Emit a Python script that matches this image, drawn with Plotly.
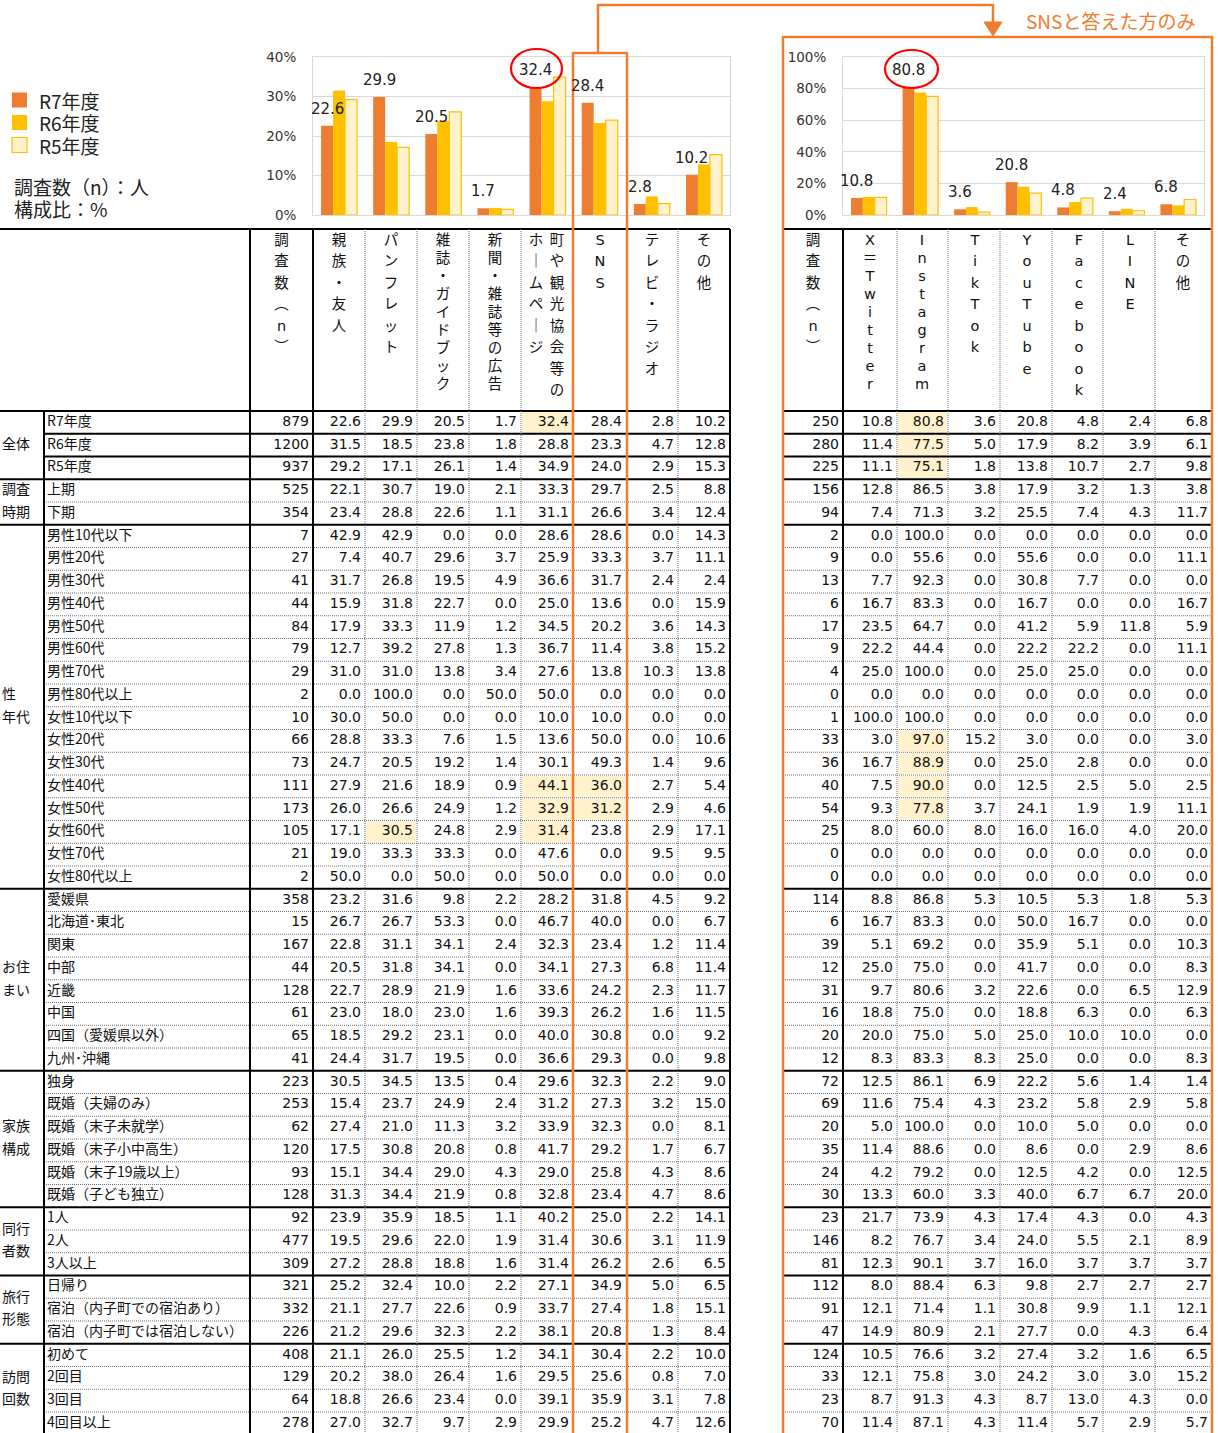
import plotly.graph_objects as go

W, H = 1218, 1433

# ---------------- DATA ----------------
series_names = ["R7年度", "R6年度", "R5年度"]

left_header_cols = [
    ["調", "査", "数", "︵", "n", "︶"],
    list("親族・友人"),
    list("パンフレット"),
    list("雑誌・ガイドブック"),
    list("新聞・雑誌等の広告"),
    ["ホ", "｜", "ム", "ペ", "｜", "ジ"],
    list("町や観光協会等の"),
    list("SNS"),
    list("テレビ・ラジオ"),
    list("その他"),
]
right_header_cols = [
    ["調", "査", "数", "︵", "n", "︶"],
    ["X", "＝", "T", "w", "i", "t", "t", "e", "r"],
    list("Instagram"),
    list("TikTok"),
    list("YouTube"),
    list("Facebook"),
    list("LINE"),
    list("その他"),
]

group_labels = [["全体"], ["調査", "時期"], ["性", "年代"], ["お住", "まい"],
                ["家族", "構成"], ["同行", "者数"], ["旅行", "形態"], ["訪問", "回数"]]

rows_zentai = ["R7年度", "R6年度", "R5年度"]
rows_jiki = ["上期", "下期"]
rows_seinendai = ["男性10代以下", "男性20代", "男性30代", "男性40代", "男性50代", "男性60代",
                  "男性70代", "男性80代以上", "女性10代以下", "女性20代", "女性30代", "女性40代",
                  "女性50代", "女性60代", "女性70代", "女性80代以上"]
rows_sumai = ["愛媛県", "北海道･東北", "関東", "中部", "近畿", "中国", "四国（愛媛県以外）", "九州･沖縄"]
rows_kazoku = ["独身", "既婚（夫婦のみ）", "既婚（末子未就学）", "既婚（末子小中高生）",
               "既婚（末子19歳以上）", "既婚（子ども独立）"]
rows_doko = ["1人", "2人", "3人以上"]
rows_ryoko = ["日帰り", "宿泊（内子町での宿泊あり）", "宿泊（内子町では宿泊しない）"]
rows_homon = ["初めて", "2回目", "3回目", "4回目以上"]

# left table: n, 親族・友人, パンフレット, 雑誌・ガイドブック, 新聞・雑誌等の広告, HP, SNS, テレビ・ラジオ, その他
L_zentai = [[879, 22.6, 29.9, 20.5, 1.7, 32.4, 28.4, 2.8, 10.2],
            [1200, 31.5, 18.5, 23.8, 1.8, 28.8, 23.3, 4.7, 12.8],
            [937, 29.2, 17.1, 26.1, 1.4, 34.9, 24.0, 2.9, 15.3]]
L_jiki = [[525, 22.1, 30.7, 19.0, 2.1, 33.3, 29.7, 2.5, 8.8],
          [354, 23.4, 28.8, 22.6, 1.1, 31.1, 26.6, 3.4, 12.4]]
L_seinendai = [[7, 42.9, 42.9, 0.0, 0.0, 28.6, 28.6, 0.0, 14.3],
               [27, 7.4, 40.7, 29.6, 3.7, 25.9, 33.3, 3.7, 11.1],
               [41, 31.7, 26.8, 19.5, 4.9, 36.6, 31.7, 2.4, 2.4],
               [44, 15.9, 31.8, 22.7, 0.0, 25.0, 13.6, 0.0, 15.9],
               [84, 17.9, 33.3, 11.9, 1.2, 34.5, 20.2, 3.6, 14.3],
               [79, 12.7, 39.2, 27.8, 1.3, 36.7, 11.4, 3.8, 15.2],
               [29, 31.0, 31.0, 13.8, 3.4, 27.6, 13.8, 10.3, 13.8],
               [2, 0.0, 100.0, 0.0, 50.0, 50.0, 0.0, 0.0, 0.0],
               [10, 30.0, 50.0, 0.0, 0.0, 10.0, 10.0, 0.0, 0.0],
               [66, 28.8, 33.3, 7.6, 1.5, 13.6, 50.0, 0.0, 10.6],
               [73, 24.7, 20.5, 19.2, 1.4, 30.1, 49.3, 1.4, 9.6],
               [111, 27.9, 21.6, 18.9, 0.9, 44.1, 36.0, 2.7, 5.4],
               [173, 26.0, 26.6, 24.9, 1.2, 32.9, 31.2, 2.9, 4.6],
               [105, 17.1, 30.5, 24.8, 2.9, 31.4, 23.8, 2.9, 17.1],
               [21, 19.0, 33.3, 33.3, 0.0, 47.6, 0.0, 9.5, 9.5],
               [2, 50.0, 0.0, 50.0, 0.0, 50.0, 0.0, 0.0, 0.0]]
L_sumai = [[358, 23.2, 31.6, 9.8, 2.2, 28.2, 31.8, 4.5, 9.2],
           [15, 26.7, 26.7, 53.3, 0.0, 46.7, 40.0, 0.0, 6.7],
           [167, 22.8, 31.1, 34.1, 2.4, 32.3, 23.4, 1.2, 11.4],
           [44, 20.5, 31.8, 34.1, 0.0, 34.1, 27.3, 6.8, 11.4],
           [128, 22.7, 28.9, 21.9, 1.6, 33.6, 24.2, 2.3, 11.7],
           [61, 23.0, 18.0, 23.0, 1.6, 39.3, 26.2, 1.6, 11.5],
           [65, 18.5, 29.2, 23.1, 0.0, 40.0, 30.8, 0.0, 9.2],
           [41, 24.4, 31.7, 19.5, 0.0, 36.6, 29.3, 0.0, 9.8]]
L_kazoku = [[223, 30.5, 34.5, 13.5, 0.4, 29.6, 32.3, 2.2, 9.0],
            [253, 15.4, 23.7, 24.9, 2.4, 31.2, 27.3, 3.2, 15.0],
            [62, 27.4, 21.0, 11.3, 3.2, 33.9, 32.3, 0.0, 8.1],
            [120, 17.5, 30.8, 20.8, 0.8, 41.7, 29.2, 1.7, 6.7],
            [93, 15.1, 34.4, 29.0, 4.3, 29.0, 25.8, 4.3, 8.6],
            [128, 31.3, 34.4, 21.9, 0.8, 32.8, 23.4, 4.7, 8.6]]
L_doko = [[92, 23.9, 35.9, 18.5, 1.1, 40.2, 25.0, 2.2, 14.1],
          [477, 19.5, 29.6, 22.0, 1.9, 31.4, 30.6, 3.1, 11.9],
          [309, 27.2, 28.8, 18.8, 1.6, 31.4, 26.2, 2.6, 6.5]]
L_ryoko = [[321, 25.2, 32.4, 10.0, 2.2, 27.1, 34.9, 5.0, 6.5],
           [332, 21.1, 27.7, 22.6, 0.9, 33.7, 27.4, 1.8, 15.1],
           [226, 21.2, 29.6, 32.3, 2.2, 38.1, 20.8, 1.3, 8.4]]
L_homon = [[408, 21.1, 26.0, 25.5, 1.2, 34.1, 30.4, 2.2, 10.0],
           [129, 20.2, 38.0, 26.4, 1.6, 29.5, 25.6, 0.8, 7.0],
           [64, 18.8, 26.6, 23.4, 0.0, 39.1, 35.9, 3.1, 7.8],
           [278, 27.0, 32.7, 9.7, 2.9, 29.9, 25.2, 4.7, 12.6]]

# right table: n, X(Twitter), Instagram, TikTok, YouTube, Facebook, LINE, その他
R_zentai = [[250, 10.8, 80.8, 3.6, 20.8, 4.8, 2.4, 6.8],
            [280, 11.4, 77.5, 5.0, 17.9, 8.2, 3.9, 6.1],
            [225, 11.1, 75.1, 1.8, 13.8, 10.7, 2.7, 9.8]]
R_jiki = [[156, 12.8, 86.5, 3.8, 17.9, 3.2, 1.3, 3.8],
          [94, 7.4, 71.3, 3.2, 25.5, 7.4, 4.3, 11.7]]
R_seinendai = [[2, 0.0, 100.0, 0.0, 0.0, 0.0, 0.0, 0.0],
               [9, 0.0, 55.6, 0.0, 55.6, 0.0, 0.0, 11.1],
               [13, 7.7, 92.3, 0.0, 30.8, 7.7, 0.0, 0.0],
               [6, 16.7, 83.3, 0.0, 16.7, 0.0, 0.0, 16.7],
               [17, 23.5, 64.7, 0.0, 41.2, 5.9, 11.8, 5.9],
               [9, 22.2, 44.4, 0.0, 22.2, 22.2, 0.0, 11.1],
               [4, 25.0, 100.0, 0.0, 25.0, 25.0, 0.0, 0.0],
               [0, 0.0, 0.0, 0.0, 0.0, 0.0, 0.0, 0.0],
               [1, 100.0, 100.0, 0.0, 0.0, 0.0, 0.0, 0.0],
               [33, 3.0, 97.0, 15.2, 3.0, 0.0, 0.0, 3.0],
               [36, 16.7, 88.9, 0.0, 25.0, 2.8, 0.0, 0.0],
               [40, 7.5, 90.0, 0.0, 12.5, 2.5, 5.0, 2.5],
               [54, 9.3, 77.8, 3.7, 24.1, 1.9, 1.9, 11.1],
               [25, 8.0, 60.0, 8.0, 16.0, 16.0, 4.0, 20.0],
               [0, 0.0, 0.0, 0.0, 0.0, 0.0, 0.0, 0.0],
               [0, 0.0, 0.0, 0.0, 0.0, 0.0, 0.0, 0.0]]
R_sumai = [[114, 8.8, 86.8, 5.3, 10.5, 5.3, 1.8, 5.3],
           [6, 16.7, 83.3, 0.0, 50.0, 16.7, 0.0, 0.0],
           [39, 5.1, 69.2, 0.0, 35.9, 5.1, 0.0, 10.3],
           [12, 25.0, 75.0, 0.0, 41.7, 0.0, 0.0, 8.3],
           [31, 9.7, 80.6, 3.2, 22.6, 0.0, 6.5, 12.9],
           [16, 18.8, 75.0, 0.0, 18.8, 6.3, 0.0, 6.3],
           [20, 20.0, 75.0, 5.0, 25.0, 10.0, 10.0, 0.0],
           [12, 8.3, 83.3, 8.3, 25.0, 0.0, 0.0, 8.3]]
R_kazoku = [[72, 12.5, 86.1, 6.9, 22.2, 5.6, 1.4, 1.4],
            [69, 11.6, 75.4, 4.3, 23.2, 5.8, 2.9, 5.8],
            [20, 5.0, 100.0, 0.0, 10.0, 5.0, 0.0, 0.0],
            [35, 11.4, 88.6, 0.0, 8.6, 0.0, 2.9, 8.6],
            [24, 4.2, 79.2, 0.0, 12.5, 4.2, 0.0, 12.5],
            [30, 13.3, 60.0, 3.3, 40.0, 6.7, 6.7, 20.0]]
R_doko = [[23, 21.7, 73.9, 4.3, 17.4, 4.3, 0.0, 4.3],
          [146, 8.2, 76.7, 3.4, 24.0, 5.5, 2.1, 8.9],
          [81, 12.3, 90.1, 3.7, 16.0, 3.7, 3.7, 3.7]]
R_ryoko = [[112, 8.0, 88.4, 6.3, 9.8, 2.7, 2.7, 2.7],
           [91, 12.1, 71.4, 1.1, 30.8, 9.9, 1.1, 12.1],
           [47, 14.9, 80.9, 2.1, 27.7, 0.0, 4.3, 6.4]]
R_homon = [[124, 10.5, 76.6, 3.2, 27.4, 3.2, 1.6, 6.5],
           [33, 12.1, 75.8, 3.0, 24.2, 3.0, 3.0, 15.2],
           [23, 8.7, 91.3, 4.3, 8.7, 13.0, 4.3, 0.0],
           [70, 11.4, 87.1, 4.3, 11.4, 5.7, 2.9, 5.7]]

# highlighted cells (row index, column index)
highlight_left = [(0, 5), (16, 5), (16, 6), (17, 5), (17, 6), (18, 2), (18, 5)]
highlight_right = [(0, 2), (1, 2), (2, 2), (14, 2), (15, 2), (16, 2), (17, 2)]

# ---------------- STYLE / GEOMETRY ----------------
ORANGE = "#ED7D31"
GOLD = "#FFC000"
CREAM = "#FFF2CC"
series_fill = [ORANGE, GOLD, CREAM]
series_edge = [ORANGE, GOLD, GOLD]
JP = "Noto Sans CJK JP"
NUM = "DejaVu Sans"

row_groups = [rows_zentai, rows_jiki, rows_seinendai, rows_sumai, rows_kazoku, rows_doko, rows_ryoko, rows_homon]
L_groups = [L_zentai, L_jiki, L_seinendai, L_sumai, L_kazoku, L_doko, L_ryoko, L_homon]
R_groups = [R_zentai, R_jiki, R_seinendai, R_sumai, R_kazoku, R_doko, R_ryoko, R_homon]
row_labels = [r for g in row_groups for r in g]
L_rows = [r for g in L_groups for r in g]
R_rows = [r for g in R_groups for r in g]
n_rows = len(row_labels)

TBL_TOP = 229
HDR_BOT = 411
ROW_H = 22.75


def row_top(i):
    return HDR_BOT + ROW_H * i


def row_mid(i):
    return HDR_BOT + ROW_H * (i + 0.5)


L_bounds = [250, 313, 365, 417, 469, 521, 573, 626, 678, 730]
R_bounds = [783, 843, 897, 948, 1000, 1052, 1103, 1155, 1212]
PAD = 4

fig = go.Figure()

# ---------------- BAR CHARTS ----------------
offsets = [-0.345, -0.115, 0.115]
BW = 0.23
left_vals = [row[1:] for row in L_zentai]
right_vals = [row[1:] for row in R_zentai]
for k in range(3):
    fig.add_trace(go.Bar(
        x=list(range(len(left_vals[k]))), y=left_vals[k], width=BW, offset=offsets[k],
        marker=dict(color=series_fill[k], line=dict(color=series_edge[k], width=1.2 if k == 2 else 0)),
        xaxis="x", yaxis="y", hoverinfo="skip", name=series_names[k]))
    fig.add_trace(go.Bar(
        x=list(range(len(right_vals[k]))), y=right_vals[k], width=BW, offset=offsets[k],
        marker=dict(color=series_fill[k], line=dict(color=series_edge[k], width=1.2 if k == 2 else 0)),
        xaxis="x2", yaxis="y2", hoverinfo="skip", name=series_names[k]))

annotations = []
for i, v in enumerate(left_vals[0]):
    annotations.append(dict(x=i + offsets[0] + BW / 2, y=v, xref="x", yref="y", yshift=17,
                            text=f"{v:.1f}", showarrow=False,
                            font=dict(family=NUM, size=15, color="#222")))
for i, v in enumerate(right_vals[0]):
    annotations.append(dict(x=i + offsets[0] + BW / 2, y=v, xref="x2", yref="y2", yshift=17,
                            text=f"{v:.1f}", showarrow=False,
                            font=dict(family=NUM, size=15, color="#222")))


# ---------------- TABLE TEXT ----------------
def add_text(xs, ys, texts, pos, family, size, color="#111"):
    fig.add_trace(go.Scatter(x=xs, y=ys, text=texts, mode="text", textposition=pos,
                             textfont=dict(family=family, size=size, color=color),
                             xaxis="x3", yaxis="y3", hoverinfo="skip", showlegend=False))


ys = [row_mid(i) for i in range(n_rows)]
for j in range(len(L_bounds) - 1):
    txt = [str(r[j]) if j == 0 else f"{r[j]:.1f}" for r in L_rows]
    add_text([L_bounds[j + 1] - PAD] * n_rows, ys, txt, "middle left", NUM, 14)
for j in range(len(R_bounds) - 1):
    txt = [str(r[j]) if j == 0 else f"{r[j]:.1f}" for r in R_rows]
    add_text([R_bounds[j + 1] - PAD] * n_rows, ys, txt, "middle left", NUM, 14)

add_text([47] * n_rows, ys, row_labels, "middle right", JP, 14)

# group labels
start = 0
gx, gy, gt = [], [], []
for lab, rows in zip(group_labels, row_groups):
    center = HDR_BOT + ROW_H * (start + len(rows) / 2)
    nl = len(lab)
    for li, t in enumerate(lab):
        gx.append(2)
        gy.append(center + (li - (nl - 1) / 2) * 22.5)
        gt.append(t)
    start += len(rows)
add_text(gx, gy, gt, "middle right", JP, 14)

# vertical headers
left_hdr_x = [281.5, 339, 391, 443, 495, 536, 557, 600, 652, 704]
right_hdr_x = [813, 870, 922, 975, 1027, 1079, 1130, 1183]
hx, hy, ht = [], [], []
for xc, chars in list(zip(left_hdr_x, left_header_cols)) + list(zip(right_hdr_x, right_header_cols)):
    sp = 18 if len(chars) >= 9 else 21.5
    for c_i, ch in enumerate(chars):
        hx.append(xc)
        hy.append(241 + c_i * sp)
        ht.append(ch)
add_text(hx, hy, ht, "middle center", "DejaVu Sans, Noto Sans CJK JP", 14.5)

# ---------------- SHAPES ----------------
shapes = []


def line(x0, y0, x1, y1, color="black", width=2, dash="solid", layer="above"):
    shapes.append(dict(type="line", x0=x0, y0=y0, x1=x1, y1=y1, xref="x3", yref="y3",
                       line=dict(color=color, width=width, dash=dash), layer=layer))


for (ri, cj) in highlight_left:
    shapes.append(dict(type="rect", x0=L_bounds[cj] + 1, x1=L_bounds[cj + 1] - 1,
                       y0=row_top(ri) + 1, y1=row_top(ri + 1) - 1, xref="x3", yref="y3",
                       fillcolor=CREAM, line=dict(width=0), layer="below"))
for (ri, cj) in highlight_right:
    shapes.append(dict(type="rect", x0=R_bounds[cj] + 1, x1=R_bounds[cj + 1] - 1,
                       y0=row_top(ri) + 1, y1=row_top(ri + 1) - 1, xref="x3", yref="y3",
                       fillcolor=CREAM, line=dict(width=0), layer="below"))

DOT = "1px,1px"
GRAY = "#6f6f6f"
group_starts = set()
s = 0
for rows in row_groups:
    group_starts.add(s)
    s += len(rows)
line(0, TBL_TOP, 730, TBL_TOP)
line(783, TBL_TOP, 1212, TBL_TOP)
for i in range(0, n_rows):
    y = row_top(i)
    if i in group_starts:
        line(0, y, 730, y)
        line(783, y, 1212, y)
    elif i < len(rows_zentai):
        line(44, y, 730, y)
        line(783, y, 1212, y)
    else:
        line(44, y, 730, y, GRAY, 1, DOT)
        line(783, y, 1212, y, GRAY, 1, DOT)

BOTTOM = H + 5
line(44, HDR_BOT, 44, BOTTOM)
line(250, TBL_TOP, 250, BOTTOM)
line(313, TBL_TOP, 313, BOTTOM)
for xb in [365, 417, 469, 521, 678]:
    line(xb, TBL_TOP, xb, BOTTOM, GRAY, 1, DOT)
line(730, TBL_TOP, 730, BOTTOM)
line(843, TBL_TOP, 843, BOTTOM)
for xb in [897, 948, 1000, 1052, 1103, 1155]:
    line(xb, TBL_TOP, xb, BOTTOM, GRAY, 1, DOT)

shapes.append(dict(type="rect", x0=573, x1=627, y0=53, y1=BOTTOM, xref="x3", yref="y3",
                   line=dict(color=ORANGE, width=2.5)))
shapes.append(dict(type="rect", x0=783, x1=1212, y0=37, y1=BOTTOM, xref="x3", yref="y3",
                   line=dict(color=ORANGE, width=2.5)))
shapes.append(dict(type="path", path="M 598 53 L 598 5 L 993 5 L 993 24", xref="x3", yref="y3",
                   line=dict(color=ORANGE, width=2.5)))
shapes.append(dict(type="path", path="M 984 22 L 1002 22 L 993 36 Z", xref="x3", yref="y3",
                   fillcolor=ORANGE, line=dict(color=ORANGE, width=1)))

shapes.append(dict(type="circle", x0=511, x1=562, y0=49, y1=88, xref="x3", yref="y3",
                   line=dict(color="#FF0000", width=2.2)))
shapes.append(dict(type="circle", x0=885, x1=938, y0=50, y1=88, xref="x3", yref="y3",
                   line=dict(color="#FF0000", width=2.2)))

leg_y = [100, 122.5, 145]
for k in range(3):
    shapes.append(dict(type="rect", x0=12, x1=27, y0=leg_y[k] - 7.5, y1=leg_y[k] + 7.5,
                       xref="x3", yref="y3", fillcolor=series_fill[k],
                       line=dict(color=series_edge[k], width=1.2 if k == 2 else 0)))
    annotations.append(dict(x=37, y=leg_y[k], xref="x3", yref="y3", text=series_names[k],
                            xanchor="left", yanchor="middle", showarrow=False,
                            font=dict(family=JP, size=19, color="#222")))

annotations.append(dict(x=12, y=186, xref="x3", yref="y3", text="調査数（n）：人",
                        xanchor="left", yanchor="middle", showarrow=False,
                        font=dict(family=JP, size=19, color="#222")))
annotations.append(dict(x=12, y=208, xref="x3", yref="y3", text="構成比：%",
                        xanchor="left", yanchor="middle", showarrow=False,
                        font=dict(family=JP, size=19, color="#222")))
annotations.append(dict(x=1024, y=20, xref="x3", yref="y3", text="SNSと答えた方のみ",
                        xanchor="left", yanchor="middle", showarrow=False,
                        font=dict(family=JP, size=19, color=ORANGE)))

# ---------------- LAYOUT ----------------
ydom = [1 - 215 / H, 1 - 57 / H]
axis_common = dict(showline=True, linecolor="#D9D9D9", linewidth=1, mirror=True, zeroline=False,
                   fixedrange=True, automargin=False)
fig.update_layout(
    width=W, height=H, margin=dict(l=0, r=0, t=0, b=0, pad=0, autoexpand=False),
    paper_bgcolor="white", plot_bgcolor="rgba(0,0,0,0)",
    showlegend=False, barmode="overlay",
    font=dict(family=JP, color="#222"),
    xaxis=dict(domain=[313 / W, 730 / W], range=[-0.5, len(left_vals[0]) - 0.5], showgrid=False,
               showticklabels=False, ticks="", anchor="y", **axis_common),
    yaxis=dict(domain=ydom, range=[0, 40], dtick=10, ticksuffix="%", gridcolor="#D9D9D9",
               ticks="", ticklabelstandoff=13, anchor="x",
               tickfont=dict(family=NUM, size=13.5, color="#333"), **axis_common),
    xaxis2=dict(domain=[843 / W, 1204 / W], range=[-0.5, len(right_vals[0]) - 0.5], showgrid=False,
                showticklabels=False, ticks="", anchor="y2", **axis_common),
    yaxis2=dict(domain=ydom, range=[0, 100], dtick=20, ticksuffix="%", gridcolor="#D9D9D9",
                ticks="", ticklabelstandoff=13, anchor="x2",
                tickfont=dict(family=NUM, size=13.5, color="#333"), **axis_common),
    xaxis3=dict(domain=[0, 1], range=[0, W], visible=False, anchor="y3", fixedrange=True, automargin=False),
    yaxis3=dict(domain=[0, 1], range=[H, 0], visible=False, anchor="x3", fixedrange=True, automargin=False),
    shapes=shapes, annotations=annotations,
)

fig.write_html("out.html", config={"displayModeBar": False},
               post_script="document.body.style.margin='0';document.body.style.overflow='hidden';")
